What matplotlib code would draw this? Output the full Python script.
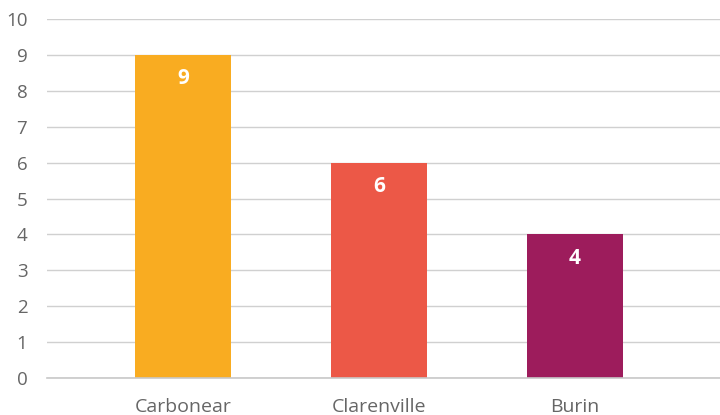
import matplotlib.pyplot as plt

sites = ["Carbonear", "Clarenville", "Burin"]
counts = [9, 6, 4]
bar_colors = ["#F9AC21", "#EC5847", "#9D1C5C"]

plt.rcParams['font.family'] = ['Open Sans', 'DejaVu Sans']

fig = plt.figure(figsize=(7.2, 4.15), dpi=100)
ax = fig.add_axes([0.065, 0.089, 0.935, 0.865])

x = range(len(sites))
bars = ax.bar(x, counts, width=0.49, color=bar_colors, zorder=3)

# value labels inside the top of each bar
for b, v in zip(bars, counts):
    ax.text(b.get_x() + b.get_width() / 2, v - 0.66, str(v), ha='center', va='center',
            color='white', fontsize=15, fontweight='bold', zorder=4)

ax.set_ylim(0, 10)
ax.set_yticks(range(0, 11))
ax.set_xlim(-0.694, 2.74)
ax.set_xticks(list(x))
ax.set_xticklabels(sites)
ax.yaxis.grid(True, color='#d0d0d0', linewidth=1, zorder=0)
ax.axhline(0, color='#c8c8c8', linewidth=1.2, zorder=4, clip_on=False)
for s in ax.spines.values():
    s.set_visible(False)
ax.tick_params(axis='both', length=0, colors='#666666', labelsize=13.5)
ax.tick_params(axis='x', labelsize=14, pad=14)
ax.tick_params(axis='y', pad=14)

fig.savefig("out.png", dpi=100)
